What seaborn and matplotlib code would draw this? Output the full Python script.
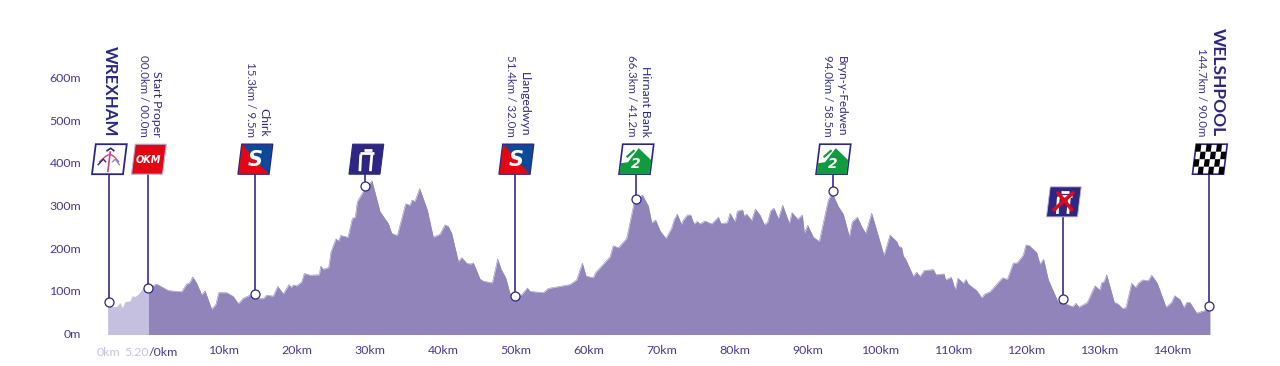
import numpy as np
import pandas as pd
import matplotlib
matplotlib.use("Agg")
import matplotlib.pyplot as plt
from matplotlib.patches import Polygon, Rectangle
from matplotlib.transforms import Affine2D, ScaledTranslation
import seaborn as sns

neutral_km = [-5.94,-5.16,-4.70,-4.25,-3.93,-3.56,-2.88,-2.56,-2.19,-1.73,-1.05,-0.37]
neutral_m = [69,65,66,75,63,77,79,91,89,95,110,110]

race_km = [-0.37,0.78,2.37,4.20,4.88,5.34,5.71,6.26,6.94,7.40,8.31,8.90,9.27,10.36,11.28,11.96,12.65,13.79,
 14.70,15.39,15.84,16.76,17.35,18.13,18.90,19.18,19.50,19.95,20.64,21.0,21.78,23.06,23.24,23.61,24.34,24.66,
 25.34,25.71,25.98,26.98,27.58,27.99,28.26,29.31,30.27,31.37,32.51,32.97,33.74,34.88,35.48,35.75,36.16,36.80,
 37.85,38.67,39.59,40.27,40.73,41.19,42.10,42.56,43.24,43.79,44.15,45.07,45.53,46.76,47.49,47.95,48.59,49.18,
 49.96,50.78,51.55,51.92,53.75,54.43,57.40,58.31,59.09,59.59,60.59,60.91,62.88,63.33,64.02,65.16,66.16,66.76,
 67.31,68.13,68.59,69.13,69.73,70.55,71.32,71.69,72.1,72.65,72.92,73.47,73.93,74.38,74.84,75.2,75.89,76.8,
 77.72,78.08,78.95,79.31,80.0,80.32,81.05,81.23,81.6,82.28,82.79,83.42,84.02,84.47,84.89,85.34,85.94,86.53,
 87.44,87.81,88.58,89.22,89.5,89.95,90.73,91.55,92.78,93.33,94.15,94.84,95.66,96.07,96.76,97.35,97.9,98.72,
 100.41,101.23,102.14,102.46,102.83,103.06,103.42,104.43,104.88,105.34,105.93,107.17,107.53,108.63,108.85,
 109.63,110.18,110.54,111.27,111.64,111.96,113.1,113.79,114.24,114.93,116.66,117.3,118.12,118.67,119.49,119.86,
 120.32,121.32,121.78,122.28,122.92,124.29,124.88,126.25,126.71,127.12,128.26,129.31,130.0,130.22,130.59,130.91,
 131.96,132.51,133.06,133.56,134.33,134.88,135.25,135.84,136.62,137.07,137.85,139.04,139.81,140.22,140.95,141.5,
 141.87,142.32,143.24,144.15,145.06]
race_m = [110,118,103,100,118,122,135,120,93,102,59,71,98,98,89,72,85,94,
 84,84,92,90,113,95,117,110,116,114,123,143,139,140,160,153,157,194,
 224,219,232,228,272,275,311,342,360,288,260,237,232,306,303,315,312,342,
 292,228,235,257,253,237,171,180,167,165,168,130,125,121,177,153,133,96,
 91,93,109,101,98,108,117,128,167,137,133,145,182,208,203,225,307,319,
 327,301,262,268,243,225,249,270,282,258,268,280,280,259,265,259,266,259,
 275,260,262,284,264,289,292,278,282,267,294,280,257,263,290,296,271,303,
 260,286,270,280,237,256,228,218,315,331,300,282,229,264,275,253,237,284,
 185,233,218,206,204,184,175,136,146,136,150,152,140,142,128,
 134,104,132,120,129,118,103,86,95,100,133,129,167,168,186,210,
 208,192,165,176,128,75,75,65,73,64,75,114,104,121,124,140,
 75,71,61,63,120,110,120,128,126,139,120,64,75,91,82,63,
 75,75,50,55,60]

place_km = [-5.82,-0.41,14.18,29.38,49.93,66.37,93.36,124.93,144.93]
place_m = [77,108,94,347,91,317,336,84,66]
sign_top_m = [446,446,446,446,446,446,446,346,446]
sign_kind = ["start","okm","sprint","gate","sprint","climb","climb","nogate","finish"]

km_ticks = list(range(10,150,10))
km_labels = [f"{k}km" for k in km_ticks]
m_ticks = [0,100,200,300,400,500,600]
m_labels = [f"{m}m" for m in m_ticks]

NAVY = "#2d2783"
STEM = "#4b439b"
TICK = "#443a92"
LIGHT = "#c8c3e2"
AREA = "#9084bb"
NEUTRAL = "#c5c0e0"
TICK_SIZE = 8.9
NAME_SIZE = 8.8
DIST_SIZE = 8.25

sns.set_theme(style="white")
plt.rcParams["font.family"] = ["Lato", "DejaVu Sans"]

W, H = 1280, 366
fig = plt.figure(figsize=(W/100, H/100), dpi=100)
L, R, T, B = 85, 1240, 10, 334.5
ax = fig.add_axes([L/W, 1-B/H, (R-L)/W, (B-T)/H])
ax.set_xlim((L-151)/7.3, (R-151)/7.3)
ax.set_ylim(0, (B-T)/0.4267)
sns.despine(ax=ax, left=True, bottom=True)

ax.fill_between(neutral_km, neutral_m, 0, color=NEUTRAL, lw=0, zorder=1)
ax.fill_between(race_km, race_m, 0, color=AREA, lw=0, zorder=1)
sns.lineplot(x=race_km, y=race_m, color=AREA, lw=0.4, sort=False, estimator=None, ax=ax, zorder=1)

ax.vlines(place_km, place_m, [t-70 for t in sign_top_m], color=STEM, lw=1.35, zorder=2)
sns.scatterplot(x=place_km, y=place_m, s=42, color="white", edgecolor=NAVY, linewidth=0.9, ax=ax, zorder=3, clip_on=False)

ax.set_xticks(km_ticks, km_labels)
ax.set_yticks(m_ticks, m_labels)
ax.tick_params(axis="x", length=0, pad=7.5, labelsize=TICK_SIZE, labelcolor=TICK)
ax.tick_params(axis="y", length=0, pad=2.8, labelsize=TICK_SIZE, labelcolor=TICK)
ax.grid(False)
for lab in ax.get_yticklabels():
    lab.set_va("center")

def tick_text(km, txt, color, ha, dx=0):
    ax.annotate(txt, (km, 0), xytext=(dx, -17.8*0.72), textcoords="offset points",
                ha=ha, va="center", color=color, fontsize=TICK_SIZE, annotation_clip=False)

tick_text(place_km[0], "0km", LIGHT, "center")
tick_text(place_km[1], "5.20", LIGHT, "right", 0.5)
tick_text(place_km[1], "/0km", TICK, "left", 0.5)

LABEL_BOTTOM = 464
def side(km, txt, dx, size, bold=False, color=NAVY):
    ax.annotate(txt, (km, LABEL_BOTTOM), xytext=(dx*0.72, 0), textcoords="offset points",
                rotation=270, ha="center", va="bottom", fontsize=size, color=color,
                fontweight="bold" if bold else "normal", annotation_clip=False)

side(place_km[0], "WREXHAM", 1, 12.2, True)
side(place_km[1], "Start Proper", 8.5, NAME_SIZE)
side(place_km[1], "00.0km / 00.0m", -5, DIST_SIZE, color="#3b348f")
side(place_km[2], "Chirk", 9.5, NAME_SIZE)
side(place_km[2], "15.3km / 9.5m", -4.5, DIST_SIZE, color="#3b348f")
side(place_km[4], "Llangedwyn", 9, NAME_SIZE)
side(place_km[4], "51.4km / 32.0m", -4.5, DIST_SIZE, color="#3b348f")
side(place_km[5], "Hirnant Bank", 9.5, NAME_SIZE)
side(place_km[5], "66.3km / 41.2m", -4.5, DIST_SIZE, color="#3b348f")
side(place_km[6], "Bryn-y-Fedwen", 9, 8.4)
side(place_km[6], "94.0km / 58.5m", -5, DIST_SIZE, color="#3b348f")
side(place_km[8], "WELSHPOOL", 9, 12.6, True)
side(place_km[8], "144.7km / 90.0m", -7, DIST_SIZE, color="#3b348f")

def sign_transform(km, top):
    skew = Affine2D.from_values(1, 0, -0.125, -1, 0.125*30-1, 0)
    return skew + ScaledTranslation(km, top, ax.transData)

BOX = [(-15.5,0),(15.5,0),(15.5,30),(-15.5,30)]
def poly(tr, pts, fc, ec="none", lw=0, z=5):
    ax.add_patch(Polygon(pts, closed=True, fc=fc, ec=ec, lw=lw, transform=tr, zorder=z, clip_on=False))
def line(tr, us, vs, c, lw, z=6):
    ax.plot(us, vs, color=c, lw=lw, transform=tr, zorder=z, clip_on=False, solid_capstyle="butt",
            scalex=False, scaley=False)
def mark(tr, txt, size, c="white", v=16):
    ax.text(0, v, txt, transform=tr, ha="center", va="center", color=c, fontsize=size,
            family="DejaVu Sans", fontweight="bold", fontstyle="italic", zorder=7, clip_on=False)

def gate(tr):
    line(tr, [-7,7], [9,9], "white", 2)
    line(tr, [-4,4], [5.5,5.5], "white", 2)
    line(tr, [-5,-6,-6], [27,13,10], "white", 2)
    line(tr, [5.5,5,5], [27,13,10], "white", 2)

def draw_sign(km, top, kind):
    tr = sign_transform(km, top)
    if kind == "start":
        poly(tr, BOX, "white", NAVY, 1.3)
        line(tr, [-4,0,4], [7,4,7], NAVY, 1.2)
        line(tr, [0,0], [7,28], "#d0417f", 1.2)
        line(tr, [-10,-4,0,4,10], [18,12,10,12,18], "#d0417f", 1.0)
        line(tr, [-11,-6,-3], [21,15,18], NAVY, 1.0)
        line(tr, [11,6,3], [21,15,18], "#8f8fb5", 1.0)
    elif kind == "okm":
        poly(tr, BOX, "#e30613", "#b9b5dc", 0.8)
        mark(tr, "OKM", 7)
    elif kind == "sprint":
        poly(tr, BOX, "#0b4a9b", NAVY, 1.0)
        poly(tr, [(-15,0),(15,30),(-15,30)], "#e30613", z=5.5)
        mark(tr, "S", 15)
    elif kind == "gate":
        poly(tr, BOX, NAVY, NAVY, 0.8)
        gate(tr)
    elif kind == "climb":
        poly(tr, BOX, "white", NAVY, 1.2)
        poly(tr, [(-15,30),(-15,19),(-8,18),(1,4),(15,16),(15,30)], "#0f9b3e", z=5.5)
        line(tr, [-10,-3], [13,6], "#0f9b3e", 1.6, z=5.6)
        mark(tr, "2", 10, v=20)
    elif kind == "nogate":
        poly(tr, BOX, NAVY, "#b9b5dc", 0.6)
        gate(tr)
        line(tr, [-10,9], [24,5], "#e30613", 2.6, z=7)
        line(tr, [-8,10], [5,24], "#e30613", 2.6, z=7)
    elif kind == "finish":
        poly(tr, BOX, "white", NAVY, 1.2)
        cw, ch = 31/6, 30/4
        for r in range(4):
            for c in range(6):
                if (r+c) % 2 == 0:
                    x0, y0 = -15.5+c*cw, r*ch
                    poly(tr, [(x0,y0),(x0+cw,y0),(x0+cw,y0+ch),(x0,y0+ch)], "black", z=5.5)

for k, t, kd in zip(place_km, sign_top_m, sign_kind):
    draw_sign(k, t, kd)

fig.savefig("out.png", dpi=100, facecolor="white")
